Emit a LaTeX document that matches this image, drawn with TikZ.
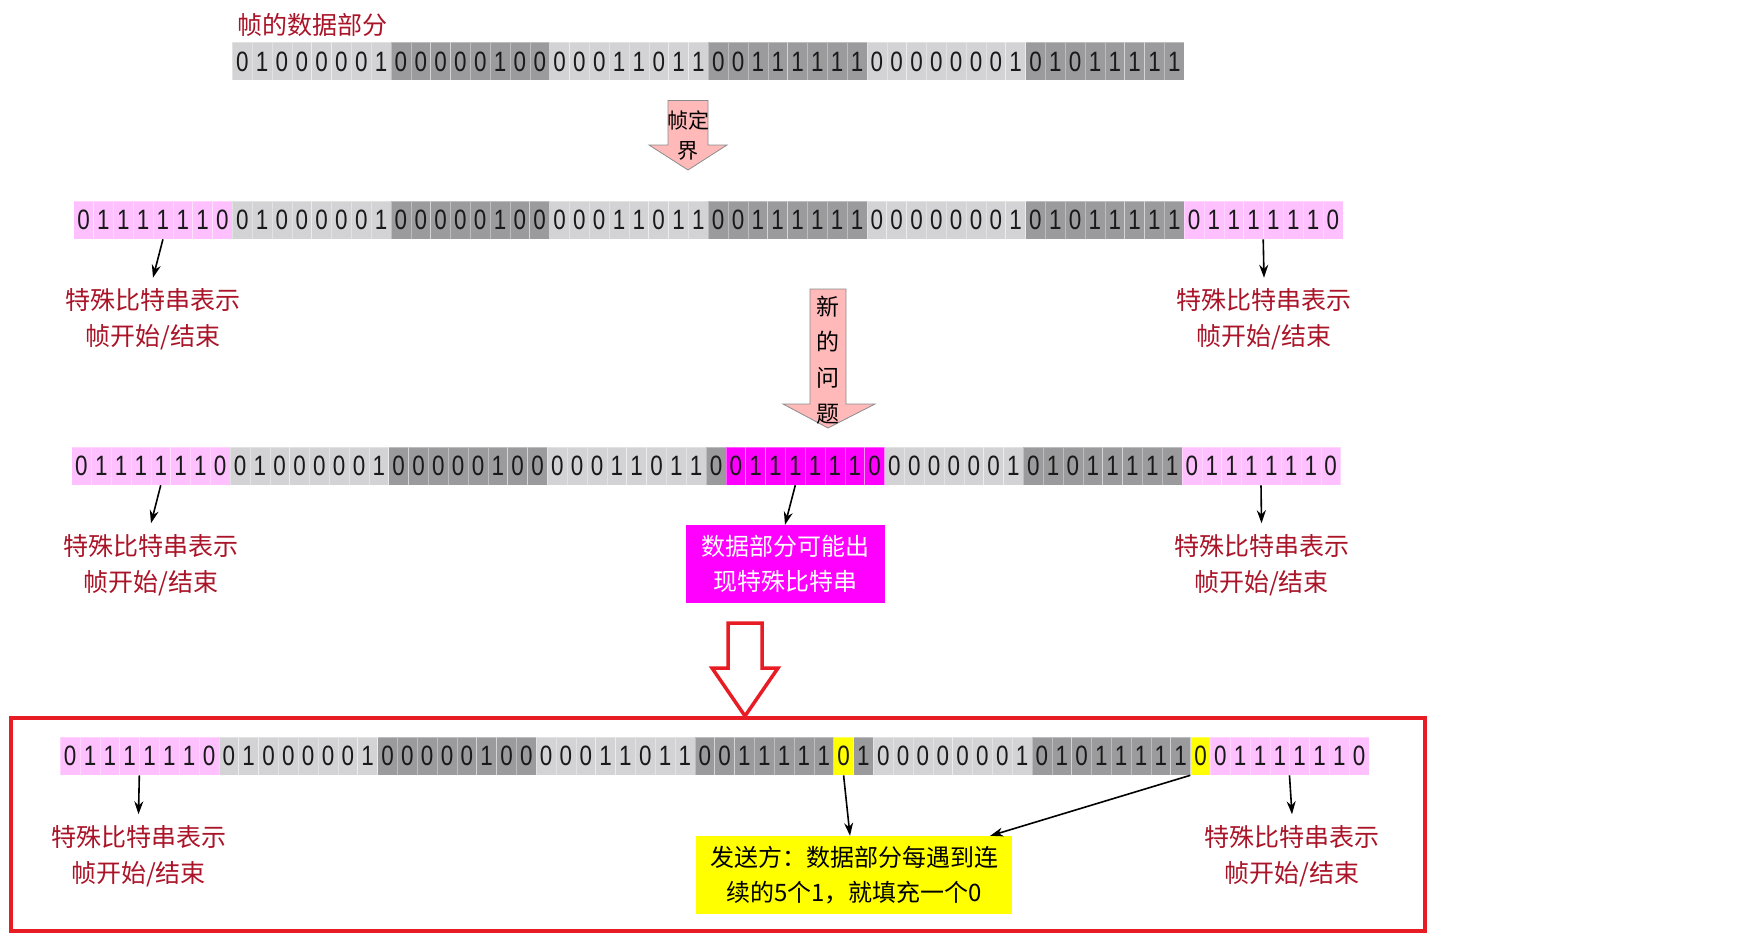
\documentclass[tikz,border=0pt]{standalone}
\usepackage{fontspec}
\setmainfont{Liberation Sans}
\newfontfamily\cjk{Noto Sans CJK SC}
\usetikzlibrary{arrows.meta}

\definecolor{lightbit}{RGB}{211,211,213}
\definecolor{darkbit}{RGB}{155,155,157}
\definecolor{flagpink}{RGB}{255,192,255}
\definecolor{hotpink}{RGB}{255,0,255}
\definecolor{stuffyel}{RGB}{255,255,0}
\definecolor{labelred}{RGB}{170,20,40}
\definecolor{arrowpink}{RGB}{255,185,185}
\definecolor{boxred}{RGB}{232,28,36}

\tikzset{
  bitcell/.style={minimum width=19.83pt, minimum height=38pt, inner sep=0pt,
    draw=white, draw opacity=0.35, line width=0.6pt,
    font=\fontsize{28}{28}\selectfont, text=black!90},
  flaglabel/.style={font=\cjk\fontsize{25}{36}\selectfont, text=labelred,
    align=center, inner sep=0pt, outer sep=11pt},
  pointer/.style={-{Stealth[length=13pt,width=9pt]}, line width=1.6pt},
  fatarrow/.style={fill=arrowpink, draw=black!45, line width=0.8pt},
}

% one coloured run of bit cells: name, row x, row y, first cell, colour, bits
\newcommand{\bits}[6]{%
  \foreach \b [count=\k from 0] in {#6}
    \node[bitcell, fill=#5] (#1-\k) at ({#2+(#4+\k+0.5)*19.83}, #3) {\scalebox{0.8}[1]{\b}};
}

\begin{document}
\begin{tikzpicture}[x=1pt, y=-1pt]
  \useasboundingbox (0,0) rectangle (1752,939);

  % row 1: data part only
  \node[font=\cjk\fontsize{25}{25}\selectfont, text=labelred] (title) at (312,24.6) {帧的数据部分};
  \bits{a1}{232.4}{61.5}{0}{lightbit}{0,1,0,0,0,0,0,1}
  \bits{a2}{232.4}{61.5}{8}{darkbit}{0,0,0,0,0,1,0,0}
  \bits{a3}{232.4}{61.5}{16}{lightbit}{0,0,0,1,1,0,1,1}
  \bits{a4}{232.4}{61.5}{24}{darkbit}{0,0,1,1,1,1,1,1}
  \bits{a5}{232.4}{61.5}{32}{lightbit}{0,0,0,0,0,0,0,1}
  \bits{a6}{232.4}{61.5}{40}{darkbit}{0,1,0,1,1,1,1,1}

  % pink arrow: framing
  \draw[fatarrow] (668,100.6) -- (708,100.6) -- (708,145) -- (727,145)
    -- (688,170) -- (649,145) -- (668,145) -- cycle;
  \node[font=\cjk\fontsize{21}{30}\selectfont, align=center] (frm) at (688,136) {帧定\\界};

  % row 2: flags added
  \bits{b0}{73.7}{220}{0}{flagpink}{0,1,1,1,1,1,1,0}
  \bits{b1}{73.7}{220}{8}{lightbit}{0,1,0,0,0,0,0,1}
  \bits{b2}{73.7}{220}{16}{darkbit}{0,0,0,0,0,1,0,0}
  \bits{b3}{73.7}{220}{24}{lightbit}{0,0,0,1,1,0,1,1}
  \bits{b4}{73.7}{220}{32}{darkbit}{0,0,1,1,1,1,1,1}
  \bits{b5}{73.7}{220}{40}{lightbit}{0,0,0,0,0,0,0,1}
  \bits{b6}{73.7}{220}{48}{darkbit}{0,1,0,1,1,1,1,1}
  \bits{b7}{73.7}{220}{56}{flagpink}{0,1,1,1,1,1,1,0}
  \node[flaglabel] (lb2) at (153,319.5) {特殊比特串表示\\帧开始/结束};
  \node[flaglabel] (rb2) at (1264,319.5) {特殊比特串表示\\帧开始/结束};
  \draw[pointer] (b0-4.south) -- (lb2.north);
  \draw[pointer] (b7-4.south west) -- (rb2.north);

  % pink arrow: new problem
  \draw[fatarrow] (810,289) -- (846,289) -- (846,404) -- (875,404)
    -- (828,428) -- (783,404) -- (810,404) -- cycle;
  \node[font=\cjk\fontsize{23}{35.7}\selectfont, align=center] (prob) at (828,360) {新\\的\\问\\题};

  % row 3: flag pattern inside the data
  \bits{c0}{71.5}{466}{0}{flagpink}{0,1,1,1,1,1,1,0}
  \bits{c1}{71.5}{466}{8}{lightbit}{0,1,0,0,0,0,0,1}
  \bits{c2}{71.5}{466}{16}{darkbit}{0,0,0,0,0,1,0,0}
  \bits{c3}{71.5}{466}{24}{lightbit}{0,0,0,1,1,0,1,1}
  \bits{c4}{71.5}{466}{32}{darkbit}{0}
  \bits{c5}{71.5}{466}{33}{hotpink}{0,1,1,1,1,1,1,0}
  \bits{c6}{71.5}{466}{41}{lightbit}{0,0,0,0,0,0,1}
  \bits{c7}{71.5}{466}{48}{darkbit}{0,1,0,1,1,1,1,1}
  \bits{c8}{71.5}{466}{56}{flagpink}{0,1,1,1,1,1,1,0}
  \node[flaglabel] (lb3) at (151,565) {特殊比特串表示\\帧开始/结束};
  \node[flaglabel] (rb3) at (1261.5,565) {特殊比特串表示\\帧开始/结束};
  \node[fill=hotpink, text=white, minimum width=199pt, minimum height=78pt, inner sep=0pt,
    font=\cjk\fontsize{24}{35}\selectfont, align=center] (mbox) at (785,564) {数据部分可能出\\现特殊比特串};
  \draw[pointer] (c0-4.south) -- (lb3.north);
  \draw[pointer] (c8-4.south west) -- (rb3.north);
  \draw[pointer] (c5-3.south) -- (mbox.north);

  % red hollow arrow and frame: bit stuffing
  \draw[boxred, line width=3.5pt, miter limit=10] (728,623) -- (762,623) -- (762,668)
    -- (778,668) -- (745,716) -- (712,668) -- (728,668) -- cycle;
  \draw[boxred, line width=4.5pt] (11,718) rectangle (1425,931);

  % row 4: stuffed zeros
  \bits{d0}{60.3}{756}{0}{flagpink}{0,1,1,1,1,1,1,0}
  \bits{d1}{60.3}{756}{8}{lightbit}{0,1,0,0,0,0,0,1}
  \bits{d2}{60.3}{756}{16}{darkbit}{0,0,0,0,0,1,0,0}
  \bits{d3}{60.3}{756}{24}{lightbit}{0,0,0,1,1,0,1,1}
  \bits{d4}{60.3}{756}{32}{darkbit}{0,0,1,1,1,1,1}
  \bits{y1}{60.3}{756}{39}{stuffyel}{0}
  \bits{d5}{60.3}{756}{40}{darkbit}{1}
  \bits{d6}{60.3}{756}{41}{lightbit}{0,0,0,0,0,0,0,1}
  \bits{d7}{60.3}{756}{49}{darkbit}{0,1,0,1,1,1,1,1}
  \bits{y2}{60.3}{756}{57}{stuffyel}{0}
  \bits{d8}{60.3}{756}{58}{flagpink}{0,1,1,1,1,1,1,0}
  \node[flaglabel] (lb4) at (138.5,856) {特殊比特串表示\\帧开始/结束};
  \node[flaglabel] (rb4) at (1292,856) {特殊比特串表示\\帧开始/结束};
  \node[fill=stuffyel, minimum width=316pt, minimum height=78pt, inner sep=0pt,
    font=\cjk\fontsize{24}{35}\selectfont, align=center] (ybox) at (854,875) {发送方：数据部分每遇到连\\续的5个1，就填充一个0};
  \draw[pointer] (d0-4.south west) -- (lb4.north);
  \draw[pointer] (d8-4.south west) -- (rb4.north);
  \draw[pointer] (y1-0.south) -- ([xshift=-4pt]ybox.north);
  \draw[pointer] (y2-0.south west) -- ([xshift=-22pt]ybox.north east);
\end{tikzpicture}
\end{document}
